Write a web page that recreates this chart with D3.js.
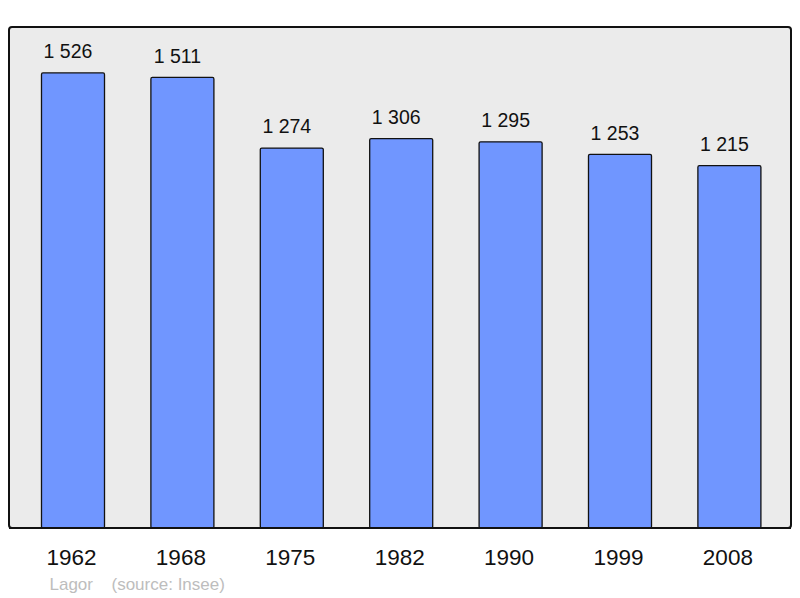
<!DOCTYPE html>
<html>
<head>
<meta charset="utf-8">
<script src="https://cdn.jsdelivr.net/npm/d3@7"></script>
<style>
  body { margin: 0; background: #fff; }
  text { font-family: "Liberation Sans", Arial, sans-serif; }
</style>
</head>
<body>
<div id="chart"></div>
<script>
const years = ["1962", "1968", "1975", "1982", "1990", "1999", "2008"];
const population = [1526, 1511, 1274, 1306, 1295, 1253, 1215];

const width = 800, height = 598;
const frame = { left: 9, top: 27, right: 791, bottom: 528 };

const svg = d3.select("#chart")
  .append("svg")
    .attr("width", width)
    .attr("height", height);

svg.append("rect")
    .attr("x", frame.left)
    .attr("y", frame.top)
    .attr("width", frame.right - frame.left)
    .attr("height", frame.bottom - frame.top)
    .attr("rx", 3)
    .attr("fill", "#ebebeb")
    .attr("stroke", "#111")
    .attr("stroke-width", 2);

const x = d3.scaleBand()
  .domain(years)
  .range([18.3, 784.1])
  .paddingInner(0.424)
  .paddingOuter(0.212);

const y = d3.scaleLinear()
  .domain([0, 1680])
  .range([frame.bottom, frame.top]);

const data = years.map((year, i) => ({ year, value: population[i] }));

svg.selectAll(".bar")
  .data(data)
  .join("rect")
    .attr("class", "bar")
    .attr("x", d => x(d.year))
    .attr("y", d => y(d.value))
    .attr("width", x.bandwidth())
    .attr("height", d => frame.bottom - y(d.value))
    .attr("rx", 1.5)
    .attr("fill", "#7096ff")
    .attr("stroke", "#111")
    .attr("stroke-width", 1.3);

// redraw frame bottom line on top of bars
svg.append("line")
    .attr("x1", frame.left)
    .attr("x2", frame.right)
    .attr("y1", frame.bottom)
    .attr("y2", frame.bottom)
    .attr("stroke", "#111")
    .attr("stroke-width", 2);

const fmt = v => d3.format(",")(v).replace(",", " ");

svg.selectAll(".value")
  .data(data)
  .join("text")
    .attr("class", "value")
    .attr("x", d => x(d.year) + x.bandwidth() / 2 - 5)
    .attr("y", d => y(d.value) - 14.7)
    .attr("text-anchor", "middle")
    .attr("fill", "#111")
    .style("font-size", "19.5px")
    .text(d => fmt(d.value));

svg.selectAll(".year")
  .data(data)
  .join("text")
    .attr("class", "year")
    .attr("x", d => x(d.year) + x.bandwidth() / 2 - 1.5)
    .attr("y", 565)
    .attr("text-anchor", "middle")
    .attr("fill", "#111")
    .style("font-size", "22.5px")
    .text(d => d.year);

svg.append("text")
    .attr("x", 49.5)
    .attr("y", 590)
    .attr("fill", "#bdbdbd")
    .style("font-size", "17px")
    .text("Lagor");

svg.append("text")
    .attr("x", 111.5)
    .attr("y", 590)
    .attr("fill", "#bdbdbd")
    .style("font-size", "17px")
    .text("(source: Insee)");
</script>
</body>
</html>
